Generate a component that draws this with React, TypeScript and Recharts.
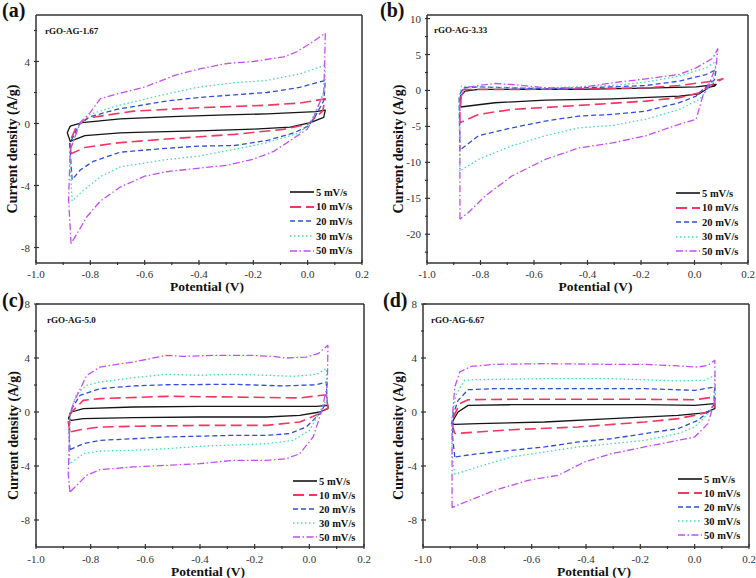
import { LineChart, Line, XAxis, YAxis, ReferenceLine, Legend, Label } from "recharts";

type Pt = [number, number];

const rates = ["5 mV/s", "10 mV/s", "20 mV/s", "30 mV/s", "50 mV/s"];
const colors = ["#151515", "#f5365f", "#2f4fd6", "#42e0a2", "#c44ef5"];
const dashes = ["", "11 5", "5 3", "1.5 2.5", "7 2.5 1.5 2.5"];

const xMajor = [-1.0, -0.8, -0.6, -0.4, -0.2, 0.0, 0.2];
const xMinor = [-0.9, -0.7, -0.5, -0.3, -0.1, 0.1];
const yMajorA = [-8, -4, 0, 4];
const yMinorA = [-6, -2, 2, 6];
const yMajorB = [-20, -15, -10, -5, 0, 5, 10];
const yMinorB = [-22.5, -17.5, -12.5, -7.5, -2.5, 2.5, 7.5];
const yMajorCD = [-8, -4, 0, 4, 8];
const yMinorCD = [-6, -2, 2, 6];

// (a) rGO-AG-1.67
const a5: Pt[] = [[-0.874,-0.17],[-0.83,0.05],[-0.69,0.3],[-0.5,0.45],[-0.3,0.55],[-0.15,0.62],[0.03,0.76],[0.065,0.86],[0.059,0.39],[0.01,0.06],[-0.064,-0.24],[-0.2,-0.36],[-0.4,-0.47],[-0.6,-0.56],[-0.69,-0.6],[-0.82,-0.78],[-0.874,-1.15],[-0.885,-0.6],[-0.874,-0.17]];
const a10: Pt[] = [[-0.871,-1.95],[-0.876,-1.2],[-0.85,-0.15],[-0.81,0.35],[-0.64,0.8],[-0.4,1.02],[-0.15,1.18],[-0.03,1.32],[0.065,1.59],[0.055,0.8],[0.0,-0.05],[-0.09,-0.38],[-0.27,-0.7],[-0.52,-1.0],[-0.7,-1.25],[-0.82,-1.55],[-0.871,-1.95]];
const a20: Pt[] = [[-0.867,-3.63],[-0.876,-1.3],[-0.84,-0.05],[-0.8,0.45],[-0.7,0.92],[-0.52,1.45],[-0.4,1.68],[-0.27,1.85],[-0.15,2.0],[-0.03,2.33],[0.065,2.78],[0.06,1.5],[0.02,0.2],[-0.002,-0.2],[-0.05,-0.6],[-0.15,-1.1],[-0.27,-1.42],[-0.4,-1.46],[-0.52,-1.6],[-0.69,-1.85],[-0.79,-2.45],[-0.837,-3.0],[-0.867,-3.63]];
const a30: Pt[] = [[-0.867,-5.0],[-0.876,-1.8],[-0.84,-0.05],[-0.8,0.6],[-0.7,1.15],[-0.52,1.9],[-0.4,2.35],[-0.27,2.63],[-0.15,2.78],[-0.03,3.2],[0.065,3.76],[0.062,2.0],[0.01,0.06],[-0.03,-0.6],[-0.15,-1.24],[-0.27,-1.67],[-0.4,-2.1],[-0.52,-2.33],[-0.69,-2.8],[-0.76,-3.4],[-0.825,-4.3],[-0.867,-5.0]];
const a50: Pt[] = [[-0.871,-7.76],[-0.88,-4.9],[-0.874,-1.7],[-0.837,0.07],[-0.8,0.72],[-0.763,1.6],[-0.714,1.85],[-0.6,2.35],[-0.49,3.1],[-0.395,3.54],[-0.297,3.87],[-0.2,4.0],[-0.088,4.3],[-0.04,4.63],[0.01,5.17],[0.065,5.83],[0.062,3.5],[0.059,2.0],[0.02,0.3],[-0.002,-0.37],[-0.064,-1.1],[-0.125,-1.8],[-0.2,-2.3],[-0.297,-2.7],[-0.395,-2.87],[-0.518,-3.1],[-0.6,-3.4],[-0.69,-4.1],[-0.763,-5.0],[-0.812,-6.0],[-0.849,-7.1],[-0.871,-7.76]];

// (b) rGO-AG-3.33
const b5: Pt[] = [[-0.875,-2.3],[-0.875,-0.8],[-0.858,-0.09],[-0.808,0.14],[-0.433,0.14],[-0.182,0.32],[0.006,0.5],[0.081,0.83],[0.075,0.6],[0.056,0.46],[0.018,-0.46],[-0.057,-0.79],[-0.307,-1.16],[-0.558,-1.34],[-0.746,-1.71],[-0.875,-2.3]];
const b10: Pt[] = [[-0.877,-4.5],[-0.877,-3.1],[-0.871,-0.32],[-0.865,0.14],[-0.683,0.14],[-0.433,0.23],[-0.182,0.37],[-0.057,0.69],[0.069,1.3],[0.106,1.62],[0.043,0.37],[0.018,-0.32],[-0.057,-1.0],[-0.182,-1.48],[-0.433,-2.08],[-0.683,-2.64],[-0.808,-3.33],[-0.877,-4.5]];
const b20: Pt[] = [[-0.877,-8.3],[-0.88,-0.79],[-0.865,0.37],[-0.808,0.5],[-0.558,0.23],[-0.307,0.5],[-0.182,0.69],[-0.057,1.3],[0.043,2.22],[0.081,2.9],[0.075,1.5],[0.031,0.14],[0.006,-0.79],[-0.057,-1.7],[-0.182,-2.87],[-0.307,-3.33],[-0.433,-3.56],[-0.558,-4.26],[-0.683,-5.2],[-0.808,-6.3],[-0.877,-8.3]];
const b30: Pt[] = [[-0.877,-11.2],[-0.88,-1.25],[-0.871,0.6],[-0.808,0.5],[-0.558,0.37],[-0.307,0.69],[-0.182,1.16],[-0.057,2.0],[0.043,3.15],[0.081,4.07],[0.069,1.06],[0.018,-1.25],[-0.057,-2.64],[-0.182,-4.0],[-0.307,-4.86],[-0.433,-5.2],[-0.558,-6.3],[-0.683,-7.7],[-0.808,-9.6],[-0.877,-11.2]];
const b50: Pt[] = [[-0.877,-17.9],[-0.877,-1.25],[-0.858,0.37],[-0.808,0.69],[-0.746,0.97],[-0.683,0.83],[-0.558,0.37],[-0.433,0.37],[-0.307,1.06],[-0.182,1.62],[-0.057,2.22],[0.006,3.15],[0.069,4.5],[0.087,5.8],[0.081,3.4],[0.05,0.5],[0.031,-0.79],[0.006,-4.0],[-0.057,-4.7],[-0.182,-6.3],[-0.307,-7.3],[-0.433,-8.0],[-0.558,-9.6],[-0.683,-11.9],[-0.783,-14.7],[-0.846,-17.0],[-0.877,-17.9]];

// (c) rGO-AG-5.0
const c5: Pt[] = [[-0.882,-0.49],[-0.87,0.0],[-0.827,0.25],[-0.644,0.37],[-0.401,0.42],[-0.157,0.42],[0.026,0.42],[0.068,0.49],[0.068,0.25],[0.038,0.0],[-0.035,-0.25],[-0.157,-0.37],[-0.401,-0.37],[-0.644,-0.42],[-0.827,-0.49],[-0.87,-0.62],[-0.882,-0.49]];
const c10: Pt[] = [[-0.876,-1.48],[-0.882,-0.74],[-0.876,-0.12],[-0.827,0.86],[-0.766,0.99],[-0.522,1.16],[-0.279,1.11],[-0.035,1.04],[0.062,1.28],[0.068,0.3],[0.038,-0.12],[-0.035,-0.74],[-0.157,-0.99],[-0.401,-0.99],[-0.644,-1.06],[-0.766,-1.11],[-0.839,-1.31],[-0.876,-1.48]];
const c20: Pt[] = [[-0.876,-2.79],[-0.879,-1.6],[-0.876,0.0],[-0.839,1.23],[-0.766,1.73],[-0.644,1.93],[-0.522,2.02],[-0.279,2.05],[-0.096,1.93],[0.026,2.02],[0.062,2.22],[0.065,0.8],[0.038,-0.12],[-0.011,-1.11],[-0.072,-1.6],[-0.157,-1.73],[-0.279,-1.73],[-0.522,-1.85],[-0.644,-1.98],[-0.766,-2.1],[-0.827,-2.35],[-0.876,-2.79]];
const c30: Pt[] = [[-0.876,-3.83],[-0.878,-2.35],[-0.876,-0.12],[-0.851,1.36],[-0.815,1.98],[-0.766,2.22],[-0.644,2.54],[-0.522,2.79],[-0.401,2.72],[-0.279,2.79],[-0.157,2.72],[-0.059,2.64],[0.026,2.79],[0.062,3.21],[0.065,1.0],[0.038,0.0],[0.001,-1.36],[-0.059,-2.1],[-0.157,-2.35],[-0.401,-2.54],[-0.522,-2.72],[-0.644,-2.84],[-0.766,-2.89],[-0.827,-3.09],[-0.876,-3.83]];
const c50: Pt[] = [[-0.876,-5.93],[-0.882,-4.57],[-0.876,-0.37],[-0.864,0.62],[-0.815,2.7],[-0.766,3.33],[-0.705,3.53],[-0.644,3.7],[-0.583,3.95],[-0.522,4.2],[-0.461,4.12],[-0.34,4.2],[-0.218,4.2],[-0.133,4.12],[-0.084,4.0],[-0.011,4.07],[0.032,4.32],[0.068,4.94],[0.066,2.0],[0.044,0.0],[0.014,-1.85],[-0.035,-3.09],[-0.084,-3.46],[-0.157,-3.58],[-0.279,-3.58],[-0.401,-3.83],[-0.522,-3.95],[-0.644,-4.07],[-0.766,-4.27],[-0.815,-4.69],[-0.851,-5.43],[-0.876,-5.93]];

// (d) rGO-AG-6.67
const d5: Pt[] = [[-0.896,-0.86],[-0.871,0.0],[-0.834,0.49],[-0.675,0.54],[-0.429,0.54],[-0.184,0.54],[0.0,0.49],[0.074,0.62],[0.074,0.25],[0.037,-0.07],[-0.061,-0.25],[-0.307,-0.49],[-0.552,-0.74],[-0.798,-0.86],[-0.883,-0.91],[-0.896,-0.86]];
const d10: Pt[] = [[-0.883,-1.6],[-0.89,-1.11],[-0.89,-0.49],[-0.865,0.62],[-0.834,0.91],[-0.675,0.94],[-0.429,0.94],[-0.184,0.94],[0.0,0.91],[0.074,1.11],[0.074,0.3],[0.049,0.0],[0.0,-0.25],[-0.061,-0.49],[-0.184,-0.74],[-0.429,-1.11],[-0.675,-1.31],[-0.798,-1.48],[-0.883,-1.6]];
const d20: Pt[] = [[-0.883,-3.33],[-0.891,-1.85],[-0.89,-0.25],[-0.871,0.86],[-0.834,1.65],[-0.736,1.73],[-0.429,1.73],[-0.184,1.73],[0.0,1.6],[0.074,1.85],[0.07,0.5],[0.049,0.0],[0.012,-0.62],[-0.061,-1.23],[-0.184,-1.6],[-0.307,-1.98],[-0.429,-2.22],[-0.552,-2.59],[-0.675,-2.84],[-0.798,-3.09],[-0.883,-3.33]];
const d30: Pt[] = [[-0.883,-4.62],[-0.893,-3.09],[-0.893,-0.37],[-0.877,1.36],[-0.847,2.35],[-0.798,2.4],[-0.552,2.47],[-0.307,2.47],[-0.061,2.3],[0.037,2.35],[0.074,2.72],[0.07,0.6],[0.049,-0.12],[0.025,-0.62],[0.0,-1.11],[-0.061,-1.6],[-0.184,-2.1],[-0.307,-2.35],[-0.429,-2.59],[-0.552,-2.96],[-0.675,-3.33],[-0.798,-4.07],[-0.883,-4.62]];
const d50: Pt[] = [[-0.893,-7.09],[-0.893,-0.62],[-0.883,1.85],[-0.865,2.96],[-0.822,3.38],[-0.736,3.53],[-0.552,3.58],[-0.307,3.53],[-0.184,3.53],[-0.061,3.41],[0.012,3.33],[0.049,3.46],[0.074,3.83],[0.076,1.0],[0.049,-0.86],[0.031,-1.23],[0.0,-1.85],[-0.061,-2.1],[-0.184,-2.59],[-0.307,-3.09],[-0.405,-3.7],[-0.503,-4.69],[-0.613,-5.06],[-0.736,-5.8],[-0.798,-6.3],[-0.859,-6.79],[-0.893,-7.09]];

const SERIF = '"Liberation Serif", "Times New Roman", serif';
const AXIS = "#333";

const toRows = (pts: Pt[]) => pts.map(([v, j]) => ({ v, j }));
const isIn = (v: number, list: number[]) => list.some((m) => Math.abs(m - v) < 1e-6);

type PanelCfg = {
  letter: string;
  sample: string;
  left: number;
  top: number;
  width: number;
  height: number;
  margin: { top: number; right: number; left: number; bottom: number };
  yAxisWidth: number;
  xAxisHeight: number;
  yDomain: [number, number];
  yMajor: number[];
  yMinor: number[];
  series: Pt[][];
  yTitleX: number;
  xTitleDy: number;
  xTickDy: number;
  legendLeft: number;
  legendTop: number;
  rowH: number;
  sampleLeft: number;
  sampleTop: number;
  letterLeft: number;
};

const panels: PanelCfg[] = [
  {
    letter: "(a)", sample: "rGO-AG-1.67", left: 0, top: 0, width: 378, height: 300,
    margin: { top: 15, right: 16, left: 0, bottom: 0 }, yAxisWidth: 36, xAxisHeight: 37,
    yDomain: [-9, 7], yMajor: yMajorA, yMinor: yMinorA, series: [a5, a10, a20, a30, a50],
    yTitleX: 12, xTitleDy: 28, xTickDy: 13, legendLeft: 290, legendTop: 185, rowH: 14.6,
    sampleLeft: 45, sampleTop: 26, letterLeft: 2,
  },
  {
    letter: "(b)", sample: "rGO-AG-3.33", left: 378, top: 0, width: 378, height: 300,
    margin: { top: 15, right: 8, left: 0, bottom: 0 }, yAxisWidth: 49, xAxisHeight: 37,
    yDomain: [-24, 10.5], yMajor: yMajorB, yMinor: yMinorB, series: [b5, b10, b20, b30, b50],
    yTitleX: 20, xTitleDy: 28, xTickDy: 13, legendLeft: 298, legendTop: 186, rowH: 14.5,
    sampleLeft: 56, sampleTop: 25, letterLeft: 2,
  },
  {
    letter: "(c)", sample: "rGO-AG-5.0", left: 0, top: 290, width: 378, height: 288,
    margin: { top: 14, right: 14, left: 0, bottom: 0 }, yAxisWidth: 36, xAxisHeight: 31,
    yDomain: [-10, 8], yMajor: yMajorCD, yMinor: yMinorCD, series: [c5, c10, c20, c30, c50],
    yTitleX: 13, xTitleDy: 29, xTickDy: 14, legendLeft: 293, legendTop: 184, rowH: 14,
    sampleLeft: 47, sampleTop: 25, letterLeft: 2,
  },
  {
    letter: "(d)", sample: "rGO-AG-6.67", left: 378, top: 290, width: 378, height: 288,
    margin: { top: 14, right: 7, left: 0, bottom: 0 }, yAxisWidth: 45, xAxisHeight: 31,
    yDomain: [-10, 8], yMajor: yMajorCD, yMinor: yMinorCD, series: [d5, d10, d20, d30, d50],
    yTitleX: 20, xTitleDy: 29, xTickDy: 14, legendLeft: 300, legendTop: 182, rowH: 14,
    sampleLeft: 53, sampleTop: 25, letterLeft: 5,
  },
];

const xTicks = [...xMajor, ...xMinor].sort((p, q) => p - q);

function makeXTick(dy: number) {
  return (props: any) => {
    const { x, y, payload } = props;
    const major = isIn(payload.value, xMajor);
    return (
      <g>
        <line x1={x} x2={x} y1={y} y2={y - (major ? 5 : 3)} stroke={AXIS} strokeWidth={1.2} />
        {major && (
          <text x={x} y={y + dy} textAnchor="middle" fontFamily={SERIF} fontSize={11} fill={AXIS}>
            {payload.value.toFixed(1)}
          </text>
        )}
      </g>
    );
  };
}

function makeYTick(major: number[]) {
  return (props: any) => {
    const { x, y, payload } = props;
    const isMajor = isIn(payload.value, major);
    return (
      <g>
        <line x1={x} x2={x + (isMajor ? 5 : 3)} y1={y} y2={y} stroke={AXIS} strokeWidth={1.2} />
        {isMajor && (
          <text x={x - 4} y={y + 4} textAnchor="end" fontFamily={SERIF} fontSize={11} fill={AXIS}>
            {String(payload.value)}
          </text>
        )}
      </g>
    );
  };
}

function LegendBox({ rowH }: { rowH: number }) {
  return (
    <div style={{ fontFamily: SERIF, fontWeight: 700, fontSize: 10.5, color: "#111" }}>
      {rates.map((r, k) => (
        <div key={r} style={{ display: "flex", alignItems: "center", height: rowH, whiteSpace: "nowrap" }}>
          <svg width={24} height={8} style={{ marginRight: 2 }}>
            <line x1={0} x2={24} y1={4} y2={4} stroke={colors[k]} strokeWidth={k === 1 ? 2.2 : 1.6}
              strokeDasharray={dashes[k] || undefined} />
          </svg>
          <span>{r}</span>
        </div>
      ))}
    </div>
  );
}

function Panel({ cfg }: { cfg: PanelCfg }) {
  const yTicks = [...cfg.yMajor, ...cfg.yMinor].sort((p, q) => p - q);
  const YTick = makeYTick(cfg.yMajor);
  const XTick = makeXTick(cfg.xTickDy);
  return (
    <div style={{ position: "absolute", left: cfg.left, top: cfg.top, width: cfg.width, height: cfg.height }}>
      <LineChart width={cfg.width} height={cfg.height} margin={cfg.margin}>
        <XAxis
          type="number"
          dataKey="v"
          domain={[-1, 0.2]}
          allowDataOverflow
          ticks={xTicks}
          interval={0}
          tickSize={0}
          tickLine={false}
          tick={XTick}
          height={cfg.xAxisHeight}
          axisLine={{ stroke: AXIS, strokeWidth: 1.5 }}
        >
          <Label
            content={(p: any) => {
              const vb = p.viewBox;
              return (
                <text x={vb.x + vb.width / 2 + 8} y={vb.y + cfg.xTitleDy} textAnchor="middle"
                  fontFamily={SERIF} fontWeight={700} fontSize={13.5} fill="#111">
                  Potential (V)
                </text>
              );
            }}
          />
        </XAxis>
        <YAxis
          type="number"
          dataKey="j"
          domain={cfg.yDomain}
          allowDataOverflow
          ticks={yTicks}
          interval={0}
          tickSize={0}
          tickLine={false}
          tick={YTick}
          width={cfg.yAxisWidth}
          axisLine={{ stroke: AXIS, strokeWidth: 1.5 }}
        >
          <Label
            content={(p: any) => {
              const vb = p.viewBox;
              const cy = vb.y + vb.height / 2 + 10;
              return (
                <text x={cfg.yTitleX} y={cy} transform={`rotate(-90, ${cfg.yTitleX}, ${cy})`}
                  textAnchor="middle" dominantBaseline="central"
                  fontFamily={SERIF} fontWeight={700} fontSize={14} fill="#111">
                  Current density (A/g)
                </text>
              );
            }}
          />
        </YAxis>
        <ReferenceLine y={cfg.yDomain[1]} stroke={AXIS} strokeWidth={1.5} />
        <ReferenceLine x={0.2} stroke={AXIS} strokeWidth={1.5} />
        {cfg.series.map((pts, k) => (
          <Line
            key={rates[k]}
            data={toRows(pts)}
            dataKey="j"
            name={rates[k]}
            type="linear"
            stroke={colors[k]}
            strokeWidth={k === 1 ? 1.6 : 1.3}
            strokeDasharray={dashes[k] || undefined}
            strokeLinejoin="round"
            dot={false}
            activeDot={false}
            isAnimationActive={false}
          />
        ))}
        <Legend
          layout="vertical"
          align="center"
          verticalAlign="middle"
          content={() => <LegendBox rowH={cfg.rowH} />}
          wrapperStyle={{ position: "absolute", left: cfg.legendLeft, top: cfg.legendTop, width: "auto", height: "auto" }}
        />
      </LineChart>
      <div style={{ position: "absolute", left: cfg.letterLeft, top: 0, fontFamily: SERIF, fontWeight: 700, fontSize: 20, lineHeight: "20px", color: "#111" }}>
        {cfg.letter}
      </div>
      <div style={{ position: "absolute", left: cfg.sampleLeft, top: cfg.sampleTop, fontFamily: SERIF, fontWeight: 700, fontSize: 9, lineHeight: "11px", color: "#111" }}>
        {cfg.sample}
      </div>
    </div>
  );
}

export default function App() {
  return (
    <div style={{ position: "absolute", left: 0, top: 0, width: 756, height: 578, background: "#fff", overflow: "hidden" }}>
      {panels.map((p) => (
        <Panel key={p.letter} cfg={p} />
      ))}
    </div>
  );
}
